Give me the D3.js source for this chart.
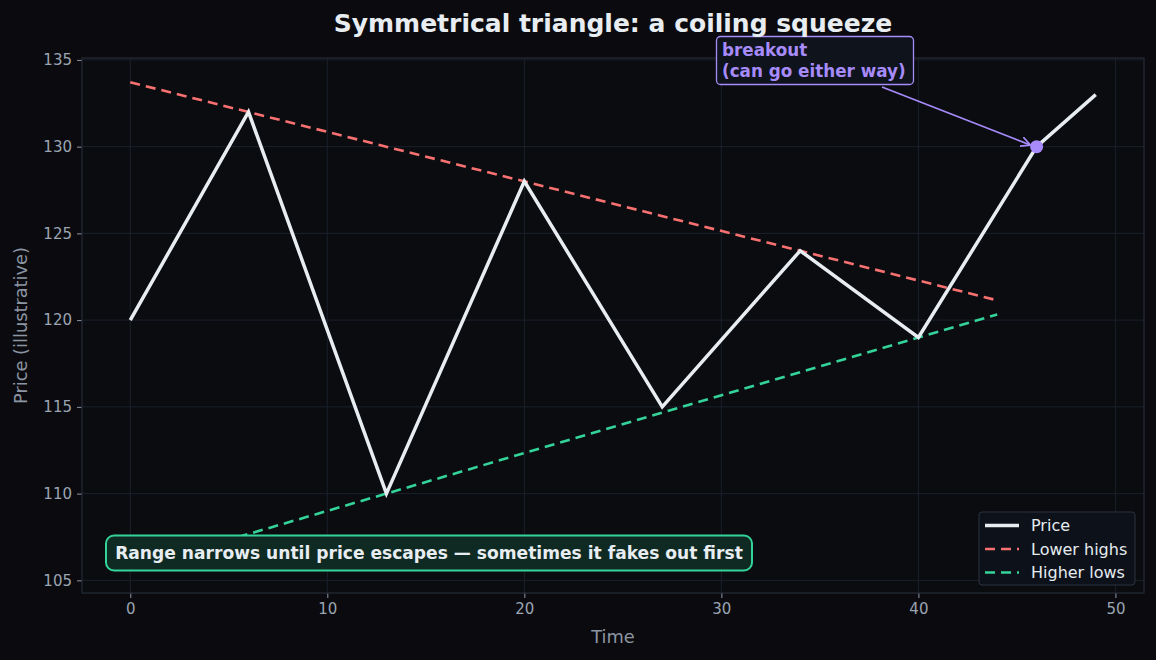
<!DOCTYPE html>
<html>
<head>
<meta charset="utf-8">
<script src="https://cdn.jsdelivr.net/npm/d3@7"></script>
<style>
  body { margin: 0; background: #0b0b0f; }
  svg { display: block; font-family: 'DejaVu Sans', sans-serif; }
</style>
</head>
<body>
<div id="grafica"></div>
<script>
// datos
price_t   = [0, 6, 13, 20, 27, 34, 40, 46, 49]
price_v   = [120, 132, 110, 128, 115, 124, 119, 130, 133]
highs_t   = [0, 44]
highs_v   = [133.71, 121.14]
lows_t    = [0, 44]
lows_v    = [105.67, 120.33]
breakout  = { t: 46, v: 130 }
x_ticks   = [0, 10, 20, 30, 40, 50]
y_ticks   = [105, 110, 115, 120, 125, 130, 135]

ancho_total = 1156
alto_total  = 660
margin = { left: 82, right: 12, top: 58, bottom: 67 }
ancho = ancho_total - margin.left - margin.right
alto  = alto_total - margin.top - margin.bottom

svg = d3.select('#grafica')
        .append('svg')
        .attr('width', ancho_total)
        .attr('height', alto_total)

svg.append('rect').attr('width', ancho_total).attr('height', alto_total).attr('fill', '#0b0b0f')

g = svg.append('g')
       .attr('transform', 'translate(' + margin.left + ',' + margin.top + ')')

g.append('rect').attr('width', ancho).attr('height', alto).attr('fill', '#0b0c10')

x = d3.scaleLinear().domain([-2.45, 51.45]).range([0, ancho])
y = d3.scaleLinear().domain([104.27, 135.11]).range([alto, 0])

// rejilla
g.selectAll('.gx').data(x_ticks).enter().append('line')
  .attr('x1', d => x(d)).attr('x2', d => x(d)).attr('y1', 0).attr('y2', alto)
  .attr('stroke', '#1a212b').attr('stroke-width', 1)
g.selectAll('.gy').data(y_ticks).enter().append('line')
  .attr('y1', d => y(d)).attr('y2', d => y(d)).attr('x1', 0).attr('x2', ancho)
  .attr('stroke', '#1a212b').attr('stroke-width', 1)

// ejes
xAxis = g.append('g').attr('transform', `translate(0, ${alto})`)
  .call(d3.axisBottom(x).tickValues(x_ticks).tickSize(5).tickPadding(5))
yAxis = g.append('g')
  .call(d3.axisLeft(y).tickValues(y_ticks).tickSize(5).tickPadding(5))
;[xAxis, yAxis].forEach(a => {
  a.select('.domain').remove()
  a.selectAll('line').attr('stroke', '#8b95a3')
  a.selectAll('text').attr('fill', '#9aa4b2').attr('font-size', '15px')
    .attr('font-family', 'DejaVu Sans')
})

g.append('rect').attr('width', ancho).attr('height', alto)
  .attr('fill', 'none').attr('stroke', '#232c38').attr('stroke-width', 1.2)

linea = d3.line().x(d => x(d[0])).y(d => y(d[1]))

g.append('path').datum(d3.zip(highs_t, highs_v)).attr('d', linea)
  .attr('fill', 'none').attr('stroke', '#f87171').attr('stroke-width', 2.6)
  .attr('stroke-dasharray', '10,6')
g.append('path').datum(d3.zip(lows_t, lows_v)).attr('d', linea)
  .attr('fill', 'none').attr('stroke', '#34d399').attr('stroke-width', 2.6)
  .attr('stroke-dasharray', '10,6')
g.append('path').datum(d3.zip(price_t, price_v)).attr('d', linea)
  .attr('fill', 'none').attr('stroke', '#e8edf2').attr('stroke-width', 3.5)
  .attr('stroke-linejoin', 'miter')

g.append('circle').attr('cx', x(breakout.t)).attr('cy', y(breakout.v)).attr('r', 6.5)
  .attr('fill', '#a78bfa')

// flecha de anotación
defs = svg.append('defs')
defs.append('marker').attr('id', 'arrow').attr('viewBox', '0 0 10 10')
  .attr('refX', 10).attr('refY', 5).attr('markerWidth', 10).attr('markerHeight', 10)
  .attr('markerUnits', 'userSpaceOnUse').attr('orient', 'auto')
  .append('path').attr('d', 'M0,0 L10,5 L0,10').attr('fill', 'none')
  .attr('stroke', '#a78bfa').attr('stroke-width', 1.6)

ax0 = 882 - margin.left, ay0 = 87 - margin.top
g.append('line').attr('x1', ax0).attr('y1', ay0)
  .attr('x2', x(breakout.t) - 6).attr('y2', y(breakout.v) - 1.5)
  .attr('stroke', '#a78bfa').attr('stroke-width', 1.7).attr('marker-end', 'url(#arrow)')

bo = svg.append('g')
bo.append('rect').attr('x', 716.5).attr('y', 36.5).attr('width', 197).attr('height', 48)
  .attr('rx', 4).attr('fill', '#0e131c').attr('stroke', '#a78bfa').attr('stroke-width', 1.3)
bo.append('text').attr('x', 722).attr('y', 56).attr('fill', '#a78bfa')
  .attr('font-size', '16.8px').attr('font-weight', 'bold').text('breakout')
bo.append('text').attr('x', 722).attr('y', 77).attr('fill', '#a78bfa')
  .attr('font-size', '16.8px').attr('font-weight', 'bold').text('(can go either way)')

// caja inferior
nb = svg.append('g')
nb.append('rect').attr('x', 106).attr('y', 535.5).attr('width', 646).attr('height', 35)
  .attr('rx', 8).attr('fill', '#0f2a22').attr('stroke', '#34d399').attr('stroke-width', 2)
nb.append('text').attr('x', 429).attr('y', 558.5).attr('text-anchor', 'middle')
  .attr('fill', '#e8edf2').attr('font-size', '17.1px').attr('font-weight', 'bold')
  .text('Range narrows until price escapes — sometimes it fakes out first')

// títulos
svg.append('text').attr('x', margin.left + ancho / 2).attr('y', 32).attr('text-anchor', 'middle')
  .attr('fill', '#e8edf2').attr('font-size', '25px').attr('font-weight', 'bold')
  .text('Symmetrical triangle: a coiling squeeze')
svg.append('text').attr('x', margin.left + ancho / 2).attr('y', 643).attr('text-anchor', 'middle')
  .attr('fill', '#8b95a3').attr('font-size', '17.8px').text('Time')
svg.append('text').attr('transform', `translate(27, ${margin.top + alto / 2}) rotate(-90)`)
  .attr('text-anchor', 'middle').attr('fill', '#8b95a3').attr('font-size', '17.8px')
  .text('Price (illustrative)')

// leyenda
leg = [
  { name: 'Price', color: '#e8edf2', dash: null, w: 3.5 },
  { name: 'Lower highs', color: '#f87171', dash: '10,6', w: 2.6 },
  { name: 'Higher lows', color: '#34d399', dash: '10,6', w: 2.6 }
]
lg = svg.append('g').attr('transform', 'translate(979, 512)')
lg.append('rect').attr('width', 156).attr('height', 73).attr('rx', 3)
  .attr('fill', '#0d121a').attr('stroke', '#2a3340').attr('stroke-width', 1)
leg.forEach((d, i) => {
  yy = 13.5 + i * 23.5
  lg.append('line').attr('x1', 6).attr('x2', 40).attr('y1', yy).attr('y2', yy)
    .attr('stroke', d.color).attr('stroke-width', d.w).attr('stroke-dasharray', d.dash)
  lg.append('text').attr('x', 52).attr('y', yy + 5.5).attr('fill', '#e6ebf0')
    .attr('font-size', '16px').text(d.name)
})
</script>
</body>
</html>
